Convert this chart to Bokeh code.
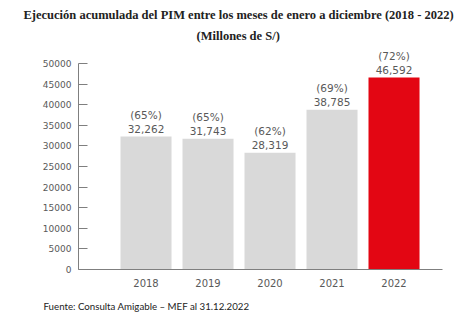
from bokeh.plotting import figure
from bokeh.models import Range1d, FixedTicker, ColumnDataSource, Title
from bokeh.embed import file_html
from bokeh.resources import INLINE
from bokeh.core.properties import value

years = ["2018", "2019", "2020", "2021", "2022"]
values = [32262, 31743, 28319, 38785, 46592]
pcts = ["(65%)", "(65%)", "(62%)", "(69%)", "(72%)"]
bar_colors = ["#D9D9D9", "#D9D9D9", "#D9D9D9", "#D9D9D9", "#E30613"]
yticks = [0, 5000, 10000, 15000, 20000, 25000, 30000, 35000, 40000, 45000, 50000]

title1 = "Ejecución acumulada del PIM entre los meses de enero a diciembre (2018 - 2022)"
title2 = "(Millones de S/)"
footer = "Fuente: Consulta Amigable \u2013 MEF al 31.12.2022"

xs = list(range(1, len(years) + 1))
src = ColumnDataSource(dict(
    x=xs, top=values, color=bar_colors,
    vlab=[f"{v:,}" for v in values], plab=pcts,
))

TXT = "#595959"
p = figure(width=476, height=326, output_backend="svg", toolbar_location=None,
           x_range=Range1d(-0.0887, 5.782), y_range=Range1d(0, 53641),
           min_border_left=78, min_border_right=34, min_border_top=48, min_border_bottom=57)
p.outline_line_color = None
p.xgrid.grid_line_color = None
p.ygrid.grid_line_color = None
p.background_fill_color = "white"
p.border_fill_color = "white"

p.vbar(x="x", top="top", width=0.823, color="color", line_color=None, source=src)

p.text(x="x", y="top", text="vlab", source=src, text_align="center", text_baseline="middle",
       y_offset=-8, text_font=value("DejaVu Sans"), text_font_size="10.5px", text_color=TXT)
p.text(x="x", y="top", text="plab", source=src, text_align="center", text_baseline="middle",
       y_offset=-22, text_font=value("DejaVu Sans"), text_font_size="10.5px", text_color=TXT)

# y axis
ya = p.yaxis[0]
ya.ticker = FixedTicker(ticks=yticks)
ya.bounds = (0, 50000)
ya.axis_line_color = "#7F7F7F"
ya.major_tick_line_color = "#7F7F7F"
ya.major_tick_in = 9
ya.major_tick_out = 0
ya.minor_tick_line_color = None
ya.major_label_text_font = "DejaVu Sans"
ya.major_label_text_font_size = "9px"
ya.major_label_text_color = TXT
ya.major_label_standoff = 7

# x axis
xa = p.xaxis[0]
xa.ticker = FixedTicker(ticks=xs)
xa.major_label_overrides = {x: y for x, y in zip(xs, years)}
xa.axis_line_color = "#7F7F7F"
xa.major_tick_line_color = None
xa.minor_tick_line_color = None
xa.major_label_text_font = "DejaVu Sans"
xa.major_label_text_font_size = "10px"
xa.major_label_text_color = TXT
xa.major_label_standoff = 3

tstyle = dict(text_font="Liberation Serif", text_font_style="bold",
              text_font_size="12.5px", text_color="#222222")
p.add_layout(Title(text=title2, align="left", offset=118, standoff=11, **tstyle), "above")
p.add_layout(Title(text=title1, align="left", offset=-55, standoff=0,
                   text_line_height=0.9, **tstyle), "above")
p.add_layout(Title(text=footer, align="left", offset=-35, text_font="Lato",
                   text_font_style="normal", text_font_size="9.7px", text_color="#222222",
                   standoff=17), "below")

open("out.html", "w").write(file_html(p, INLINE))
